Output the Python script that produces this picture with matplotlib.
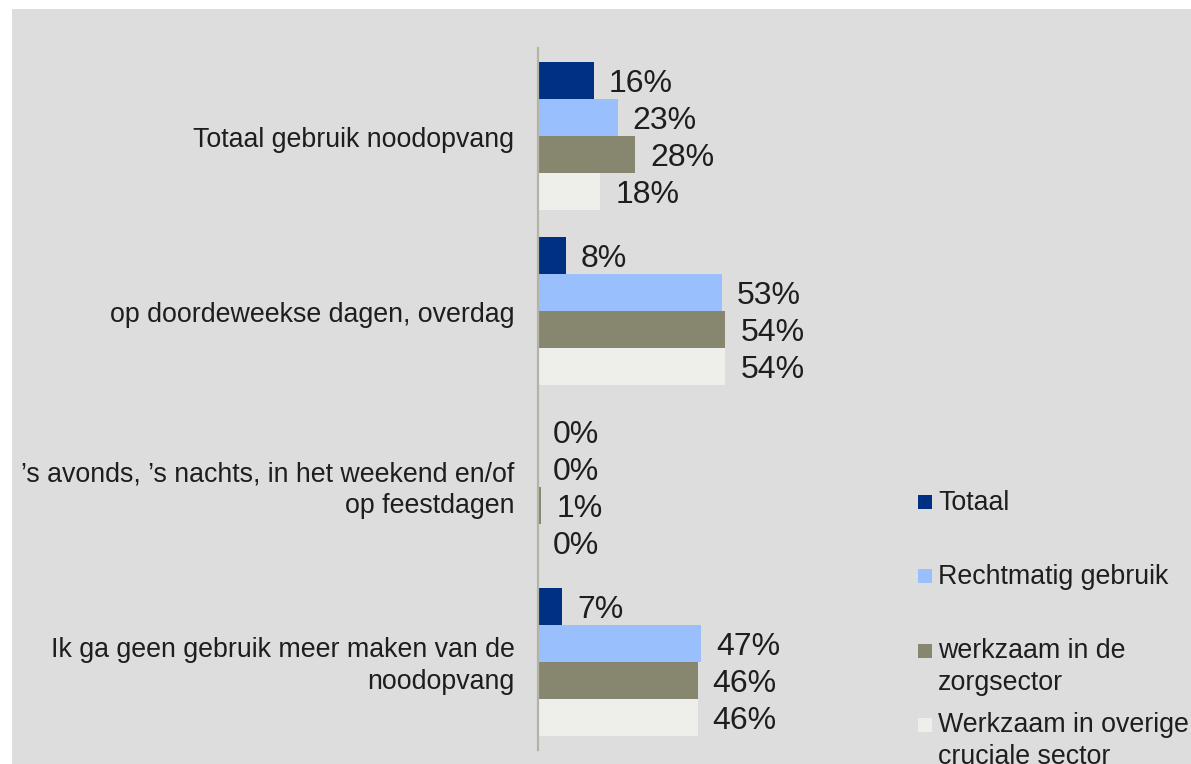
import numpy as np
import matplotlib
matplotlib.use("Agg")
import matplotlib.pyplot as plt
from matplotlib.patches import Rectangle

categories = [
    "Totaal gebruik noodopvang",
    "op doordeweekse dagen, overdag",
    "\u2019s avonds, \u2019s nachts, in het weekend en/of\nop feestdagen",
    "Ik ga geen gebruik meer maken van de\nnoodopvang",
]
series_names = [
    "Totaal",
    "Rechtmatig gebruik",
    "werkzaam in de\nzorgsector",
    "Werkzaam in overige\ncruciale sector",
]
totaal = [16, 8, 0, 7]
rechtmatig = [23, 53, 0, 47]
zorg = [28, 54, 1, 46]
overig = [18, 54, 0, 46]
colors = ["#003082", "#9abffd", "#878770", "#eeefeb"]

plt.rcParams["font.family"] = ["Liberation Sans", "DejaVu Sans"]

W, H = 1191, 764
fig = plt.figure(figsize=(W / 100, H / 100), dpi=100)
fig.patch.set_facecolor("white")
fig.patches.append(Rectangle((12 / W, 0), 1 - 12 / W, 1 - 9 / H,
                             transform=fig.transFigure, facecolor="#dddddd",
                             edgecolor="none", zorder=-10))

ax = fig.add_axes([538 / W, 1 - 750 / H, 347 / W, 702 / H])
ax.set_facecolor("none")

h = 0.211
y = np.arange(len(categories))
values = [totaal, rechtmatig, zorg, overig]
for j, (vals, c) in enumerate(zip(values, colors)):
    pos = y + (j - 1.5) * h
    bars = ax.barh(pos, vals, height=h, color=c, edgecolor="none")
    for b, v in zip(bars, vals):
        ax.annotate(f"{v}%", (b.get_width(), b.get_y() + b.get_height() / 2),
                    xytext=(10.8, -8.4), textcoords="offset points",
                    va="baseline", ha="left", fontsize=23, color="#1e1e1e")

ax.set_xlim(0, 100)
ax.set_ylim(len(categories) - 0.5, -0.5)
ax.set_yticks(y)
ax.set_yticklabels([])
ax.tick_params(axis="y", length=0)
ax.set_xticks([])

# category labels, right aligned against the axis line
for yi, cat in zip(y, categories):
    multi = "\n" in cat
    ax.annotate(cat, (0, yi), xycoords=("axes fraction", "data"),
                xytext=(-17, -2.5 if multi else -0.7), textcoords="offset points",
                ha="right", va="center" if multi else "center_baseline",
                fontsize=19.3, color="#1e1e1e", linespacing=1.28)

for s in ["top", "right", "bottom"]:
    ax.spines[s].set_visible(False)
ax.spines["left"].set_color("#b4b4a6")
ax.spines["left"].set_linewidth(1.6)

# legend drawn by hand: square sits on the first line of each label
leg_base = [510, 584, 659, 733]
line_step = 31
for name, c, lb in zip(series_names, colors, leg_base):
    fig.patches.append(Rectangle((918 / W, 1 - (lb - 1) / H), 14 / W, 14 / H,
                                 transform=fig.transFigure, facecolor=c,
                                 edgecolor="none"))
    last = lb + line_step * name.count("\n")
    fig.text(938 / W, 1 - last / H, name, fontsize=19.3, color="#1e1e1e",
             ha="left", va="baseline", linespacing=1.28)

fig.savefig("out.png", dpi=100)
